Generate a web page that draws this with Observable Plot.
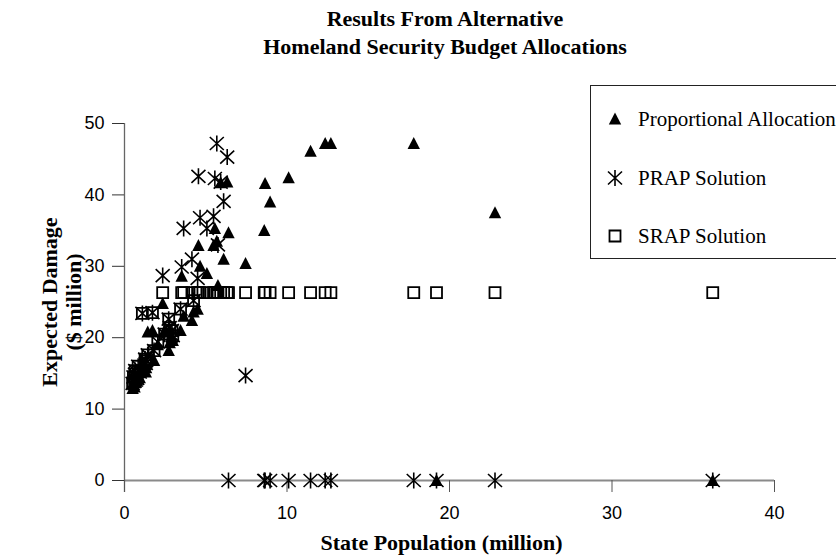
<!DOCTYPE html>
<html><head><meta charset="utf-8">
<script src="https://cdn.jsdelivr.net/npm/d3@7"></script>
<script src="https://cdn.jsdelivr.net/npm/@observablehq/plot@0.6"></script>
<style>
body{margin:0;background:#fff;}
#wrap{position:relative;width:836px;height:557px;overflow:hidden;background:#fff;}
#title{height:70px;box-sizing:border-box;padding-top:5px;padding-left:54px;text-align:center;font:bold 22px/28px "Liberation Serif","Times New Roman",serif;color:#000;}
#legend{position:absolute;left:590px;top:85px;width:300px;height:174px;border:1px solid #222;box-sizing:border-box;background:#fff;}
#legend svg{position:absolute;left:0;top:0;}
</style></head><body>
<div id="wrap">
<div id="title">Results From Alternative<br>Homeland Security Budget Allocations</div>
<div id="chart"></div>
<div id="legend"></div>
</div>
<script>
// ---- data ----
const states = ["WY","DC","VT","ND","AK","SD","DE","MT","RI","HI","NH","ME","ID","NE","WV","NM",
  "NV","UT","KS","AR","MS","IA","OK","CT","OR","KY","SC","LA","AL","CO","MN",
  "WI","MD","MO","AZ","TN","IN","WA","MA","VA","NC","NJ","GA","MI","OH","PA","IL","FL","NY","TX","CA"];
const population = [0.50,0.55,0.62,0.64,0.66,0.78,0.84,0.94,1.10,1.27,1.31,1.33,1.43,1.72,1.82,2.05,
  2.35,2.47,2.72,2.78,2.92,2.97,3.45,3.52,3.64,4.15,4.25,4.50,4.55,4.65,5.07,
  5.48,5.56,5.68,5.75,5.92,6.10,6.32,6.40,7.45,8.60,8.65,8.96,10.1,11.45,12.35,12.7,17.8,19.2,22.8,36.2];
const proportional = [12.9,13.4,13.1,13.7,14.2,13.9,14.6,14.4,15.4,16.2,15.2,15.8,20.8,21.0,16.8,19.0,
  24.8,21.0,18.2,19.3,20.0,19.6,21.0,28.6,23.0,22.4,23.6,24.0,32.9,30.0,29.0,
  32.9,35.3,33.5,27.3,41.7,31.0,41.8,34.7,30.4,35.0,41.6,39.0,42.4,46.1,47.2,47.2,47.2,0,37.5,0];
const prap = [13.6,14.5,13.9,14.9,15.4,14.3,16.0,15.2,23.4,17.0,16.4,16.8,17.6,23.5,18.2,19.4,
  28.7,20.5,22.6,21.4,21.0,20.3,24.0,29.9,35.3,31.0,25.2,28.3,42.6,36.8,35.3,
  37.0,42.3,47.2,33.0,41.8,39.1,45.3,0,14.7,0,0,0,0,0,0,0,0,0,0,0];
const srap = [13.6,14.5,13.9,14.9,15.4,14.3,16.0,15.2,23.4,17.0,16.4,16.8,17.6,23.5,18.2,19.4,
  26.3,20.5,22.6,21.4,21.0,20.3,24.0,26.3,26.3,26.3,25.2,26.3,26.3,26.3,26.3,
  26.3,26.3,26.3,26.3,26.3,26.3,26.3,26.3,26.3,26.3,26.3,26.3,26.3,26.3,26.3,26.3,26.3,26.3,26.3,26.3];
const xTicks = [0,10,20,30,40];
const yTicks = [0,10,20,30,40,50];
const seriesNames = ["Proportional Allocation","PRAP Solution","SRAP Solution"];

const data = states.map((s,i)=>({state:s, pop:population[i], prop:proportional[i], prap:prap[i], srap:srap[i]}));

// ---- marker shapes ----
const triSym = {draw(c){ c.moveTo(0,-6.5); c.lineTo(6.2,5.5); c.lineTo(-6.2,5.5); c.closePath(); }};
const astSym = {draw(c){ c.moveTo(0,-8); c.lineTo(0,8); c.moveTo(-7,-6.5); c.lineTo(7,6.5); c.moveTo(-7,6.5); c.lineTo(7,-6.5); }};
const sqSym  = {draw(c){ c.moveTo(-5.5,-5.5); c.lineTo(5.5,-5.5); c.lineTo(5.5,5.5); c.lineTo(-5.5,5.5); c.closePath(); }};

const serif = '"Liberation Serif","Times New Roman",serif';
const chart = Plot.plot({
  width: 836, height: 487,
  marginTop: 53, marginBottom: 77, marginLeft: 124, marginRight: 62,
  style: {fontFamily: '"Liberation Sans",Arial,sans-serif', fontSize: "18px", color: "#000", background: "#fff", overflow: "visible"},
  x: {domain: [0, 40]},
  y: {domain: [0, 50]},
  marks: [
    Plot.ruleY([0], {stroke: "#8a8a8a", strokeWidth: 2}),
    Plot.ruleX([0], {y1: 50, y2: 0, insetBottom: -12, stroke: "#666", strokeWidth: 1.3}),
    Plot.axisX({ticks: xTicks, tickSize: 12, tickPadding: 14, stroke: "#555", fontSize: 18, tickFormat: d => String(d), label: null}),
    Plot.axisY({ticks: yTicks, tickSize: 12, tickPadding: 8, stroke: "#333", fontSize: 18, tickFormat: d => String(d), label: null}),
    Plot.dot(data, {x: "pop", y: "prop", symbol: triSym, fill: "#000", stroke: "none", r: 4}),
    Plot.dot(data, {x: "pop", y: "prap", symbol: astSym, fill: "none", stroke: "#000", strokeWidth: 1.6, r: 4}),
    Plot.dot(data, {x: "pop", y: "srap", symbol: sqSym, fill: "none", stroke: "#000", strokeWidth: 1.8, r: 4}),
    Plot.text(["State Population (million)"], {frameAnchor: "bottom", dy: 69, dx: -8, fontSize: 22, fontWeight: "bold", fontFamily: serif, fill: "#000"}),
    Plot.text(["Expected Damage\n($ million)"], {frameAnchor: "left", textAnchor: "middle", lineAnchor: "middle", dx: -63, rotate: -90, fontSize: 22, fontWeight: "bold", fontFamily: serif, fill: "#000", lineHeight: 1.1})
  ]
});
document.getElementById("chart").appendChild(chart);

// ---- legend ----
const ns = "http://www.w3.org/2000/svg";
const lg = document.createElementNS(ns, "svg");
lg.setAttribute("width", 300); lg.setAttribute("height", 174);
const shapes = [triSym, astSym, sqSym];
const rows = [33, 92, 150];
shapes.forEach((sym, i) => {
  const p = d3.path(); sym.draw(p);
  const path = document.createElementNS(ns, "path");
  path.setAttribute("d", p.toString());
  path.setAttribute("transform", `translate(24,${rows[i]})`);
  if (i === 0) { path.setAttribute("fill", "#000"); }
  else { path.setAttribute("fill", "none"); path.setAttribute("stroke", "#000"); path.setAttribute("stroke-width", i === 1 ? 1.6 : 1.8); }
  lg.appendChild(path);
  const t = document.createElementNS(ns, "text");
  t.setAttribute("x", 47); t.setAttribute("y", rows[i] + 7);
  t.setAttribute("font-family", serif); t.setAttribute("font-size", 21);
  t.textContent = seriesNames[i];
  lg.appendChild(t);
});
document.getElementById("legend").appendChild(lg);
</script>
</body></html>
